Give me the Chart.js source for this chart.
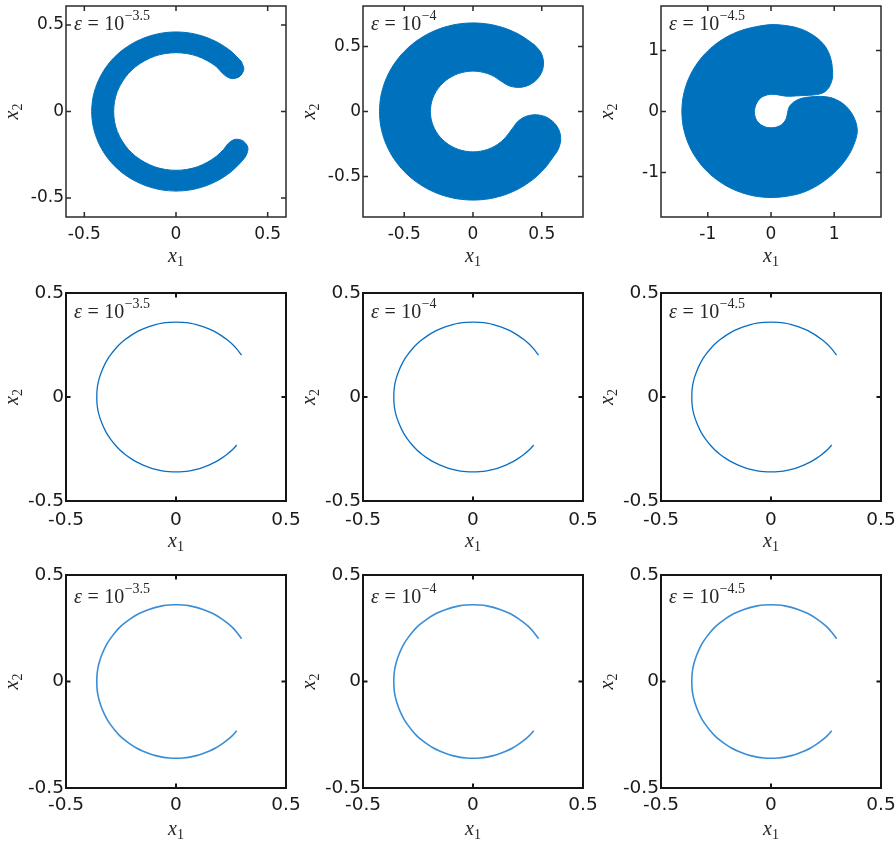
<!DOCTYPE html>
<html><head><meta charset="utf-8">
<script src="https://cdn.jsdelivr.net/npm/chart.js@4.4.1/dist/chart.umd.min.js"></script>
<style>
html,body{margin:0;padding:0;background:#fff;width:896px;height:842px;overflow:hidden;position:relative}
canvas{position:absolute}
</style></head><body>
<script>
// ---- data ----
// Row 1, panel 1 (eps = 10^-3.5): boundary of filled region
const c1X=[.357,.296,.230,.157,.080,0,-.080,-.157,-.230,-.296,-.352,-.398,-.432,-.453,-.46,-.453,-.432,-.398,-.352,-.296,-.230,-.157,-.080,0,.080,.157,.230,.296,.352,.383,.392,.366,.321,.283,.260,.219,.170,.116,.059,0,-.059,-.116,-.170,-.219,-.260,-.294,-.320,-.335,-.34,-.335,-.320,-.294,-.260,-.219,-.170,-.116,-.059,0,.059,.116,.170,.219,.263,.304,.348,.370,.357];
const c1Y=[.289,.352,.398,.432,.453,.46,.453,.432,.398,.352,.296,.230,.157,.080,0,-.080,-.157,-.230,-.296,-.352,-.398,-.432,-.453,-.46,-.453,-.432,-.398,-.352,-.296,-.253,-.208,-.170,-.161,-.187,-.219,-.260,-.294,-.320,-.335,-.34,-.335,-.320,-.294,-.260,-.219,-.170,-.116,-.059,0,.059,.116,.170,.219,.260,.294,.320,.335,.34,.335,.320,.294,.260,.212,.190,.203,.244,.289];
// Row 1, panel 2 (eps = 10^-4)
const c2X=[.451,.340,.233,.118,0,-.118,-.233,-.340,-.437,-.521,-.589,-.639,-.670,-.68,-.670,-.639,-.589,-.521,-.437,-.340,-.233,-.118,0,.118,.233,.340,.437,.521,.583,.621,.638,.627,.589,.531,.461,.389,.328,.285,.237,.199,.155,.106,.054,0,-.054,-.106,-.155,-.199,-.237,-.268,-.291,-.305,-.31,-.305,-.291,-.268,-.237,-.199,-.155,-.106,-.054,0,.054,.106,.155,.205,.268,.339,.409,.466,.503,.513,.495,.451];
const c2Y=[.509,.589,.639,.670,.68,.670,.639,.589,.521,.437,.340,.233,.118,0,-.118,-.233,-.340,-.437,-.521,-.589,-.639,-.670,-.68,-.670,-.639,-.589,-.521,-.437,-.350,-.288,-.218,-.146,-.085,-.042,-.025,-.036,-.074,-.132,-.199,-.237,-.268,-.291,-.305,-.31,-.305,-.291,-.268,-.237,-.199,-.155,-.106,-.054,0,.054,.106,.155,.199,.237,.268,.291,.305,.31,.305,.291,.268,.232,.195,.185,.204,.247,.310,.381,.451,.508];
// Row 1, panel 3 (eps = 10^-4.5)
const c3X=[.975,.962,.93,.87,.78,.67,.53,.37,.19,0,-.245,-.482,-.705,-.906,-1.080,-1.221,-1.325,-1.389,-1.41,-1.389,-1.325,-1.221,-1.080,-.906,-.705,-.482,-.245,0,.25,.50,.74,.95,1.13,1.26,1.34,1.365,1.35,1.30,1.22,1.11,.97,.84,.70,.56,.45,.36,.29,.262,.24,.17,.06,-.06,-.17,-.24,-.262,-.235,-.16,-.05,.07,.18,.28,.40,.52,.66,.78,.86,.92,.958,.975,.975];
const c3Y=[.64,.79,.92,1.05,1.16,1.25,1.33,1.385,1.415,1.425,1.389,1.325,1.221,1.080,.906,.705,.482,.245,0,-.245,-.482,-.705,-.906,-1.080,-1.221,-1.325,-1.389,-1.41,-1.39,-1.33,-1.21,-1.05,-.86,-.66,-.46,-.33,-.20,-.07,.05,.15,.22,.245,.245,.232,.205,.155,.08,-.02,-.12,-.215,-.262,-.262,-.21,-.12,0,.12,.225,.275,.28,.26,.25,.256,.262,.27,.29,.33,.40,.49,.57,.64];
// Rows 2 and 3: thin arc
const arcX=[.298,.276,.255,.231,.206,.18,.152,.123,.093,.063,.031,0,-.031,-.063,-.093,-.123,-.152,-.18,-.206,-.231,-.255,-.276,-.295,-.312,-.326,-.338,-.348,-.355,-.359,-.36,-.359,-.355,-.348,-.338,-.326,-.312,-.295,-.276,-.255,-.231,-.206,-.18,-.152,-.123,-.093,-.063,-.031,0,.031,.063,.093,.123,.152,.18,.206,.231,.255,.276];
const arcY=[.201,.231,.255,.276,.295,.312,.326,.338,.348,.355,.359,.36,.359,.355,.348,.338,.326,.312,.295,.276,.255,.231,.206,.18,.152,.123,.093,.063,.031,0,-.031,-.063,-.093,-.123,-.152,-.18,-.206,-.231,-.255,-.276,-.295,-.312,-.326,-.338,-.348,-.355,-.359,-.36,-.359,-.355,-.348,-.338,-.326,-.312,-.295,-.276,-.255,-.231];
// labels / ticks
const epsExp=['\u22123.5','\u22124','\u22124.5'];
const ticksHalf=[-0.5,0,0.5];
const ticksOne=[-1,0,1];
const rangeTopX=[0.6,0.8,1.74];
const rangeTopY=[0.61,0.81,1.73];
const rangeLow=0.5;

// ---- layout ----
const colLeft=[66,363,661], plotW=220;
const rowTop=[6,293,575], rowH=[211,208,213];
const padT=[6,10,10], L=62, R=16, B=60;
const epsDy=[24,24.5,28], titleDy=[44.5,45.5,46.5], xPad=[7.5,8,6.5];

function makePanel(row,col){
  const h=rowH[row], T=padT[row], W=L+plotW+R, H=T+h+B;
  const cv=document.createElement('canvas');
  cv.width=W; cv.height=H;
  cv.style.left=(colLeft[col]-L)+'px'; cv.style.top=(rowTop[row]-T)+'px';
  cv.style.width=W+'px'; cv.style.height=H+'px';
  document.body.appendChild(cv);
  let xs,ys,xr,yr,xt,yt;
  if(row===0){
    xs=[c1X,c2X,c3X][col]; ys=[c1Y,c2Y,c3Y][col];
    xr=rangeTopX[col]; yr=rangeTopY[col];
    xt=col===2?ticksOne:ticksHalf; yt=xt;
  } else {
    xs=arcX; ys=arcY; xr=rangeLow; yr=rangeLow; xt=ticksHalf; yt=ticksHalf;
  }
  const n=Math.min(xs.length,ys.length);
  const pts=[]; for(let i=0;i<n;i++) pts.push({x:xs[i],y:ys[i]});
  const fs=row===0?17:18.5;
  const tickFont={family:'"DejaVu Sans", Arial, sans-serif', size:fs};
  const ds = row===0 ? {
      data:pts, showLine:true, fill:'shape', backgroundColor:'#0072BD', borderColor:'#0072BD',
      borderWidth:1, pointRadius:0, tension:0.3
    } : {
      data:pts, showLine:true, fill:false, borderColor: row===1?'#0a6fc2':'#3a8ed6',
      borderWidth: row===1?1.3:1.6, pointRadius:0, tension:0.33, borderJoinStyle:'round'
    };
  const frame={id:'frame', afterDraw(chart){
    const ctx=chart.ctx, a=chart.chartArea, sx=chart.scales.x, sy=chart.scales.y;
    const tl=row===0?5:4.5;
    ctx.save();
    ctx.strokeStyle=row===0?'#2a2a2a':'#151515';
    ctx.lineWidth=row===0?1.5:2;
    ctx.beginPath();
    xt.forEach(v=>{const px=sx.getPixelForValue(v);
      ctx.moveTo(px,a.bottom); ctx.lineTo(px,a.bottom-tl);
      ctx.moveTo(px,a.top); ctx.lineTo(px,a.top+tl);});
    yt.forEach(v=>{const py=sy.getPixelForValue(v);
      ctx.moveTo(a.left,py); ctx.lineTo(a.left+tl,py);
      ctx.moveTo(a.right,py); ctx.lineTo(a.right-tl,py);});
    ctx.stroke();
    ctx.strokeRect(a.left,a.top,a.right-a.left,a.bottom-a.top);
    // epsilon label
    const S=20, serif='"Liberation Serif", "Times New Roman", serif';
    let x=a.left+8; const y=a.top+epsDy[row];
    ctx.fillStyle='#262626'; ctx.textAlign='left'; ctx.textBaseline='alphabetic';
    ctx.font='italic '+S+'px '+serif; ctx.fillText('\u03b5',x,y); x+=ctx.measureText('\u03b5').width+5.5;
    ctx.font=S+'px '+serif; ctx.fillText('=',x,y); x+=ctx.measureText('=').width+5.5;
    ctx.fillText('10',x,y); x+=ctx.measureText('10').width+0.5;
    ctx.font=Math.round(S*0.7)+'px '+serif; ctx.fillText(epsExp[col],x,y-S*0.5);
    // axis titles
    const cx=(a.left+a.right)/2, by=a.bottom+titleDy[row];
    ctx.font='italic 20px '+serif;
    const wx=ctx.measureText('x').width;
    ctx.font='14px '+serif;
    const w1=ctx.measureText('1').width;
    const sx0=cx-(wx+w1)/2;
    ctx.font='italic 20px '+serif; ctx.fillText('x',sx0,by);
    ctx.font='14px '+serif; ctx.fillText('1',sx0+wx,by+4);
    ctx.save();
    ctx.translate(a.left-48,(a.top+a.bottom)/2);
    ctx.rotate(-Math.PI/2);
    ctx.font='italic 20px '+serif; ctx.fillText('x',-(wx+w1)/2,0);
    ctx.font='14px '+serif; ctx.fillText('2',-(wx+w1)/2+wx,4);
    ctx.restore();
    ctx.restore();
  }};
  new Chart(cv,{
    type:'scatter',
    data:{datasets:[ds]},
    options:{
      responsive:false, animation:false, events:[],
      layout:{padding:{top:T,right:R,left:0,bottom:0}},
      plugins:{legend:{display:false},tooltip:{enabled:false}},
      scales:{
        x:{type:'linear',min:-xr,max:xr,
          afterBuildTicks:s=>{s.ticks=xt.map(v=>({value:v}));},
          grid:{display:false,drawTicks:false}, border:{display:false},
          ticks:{font:tickFont,color:'#1a1a1a',padding:xPad[row],maxRotation:0,autoSkip:false,callback:v=>String(v)},
          afterFit:s=>{s.height=B; s.paddingLeft=0; s.paddingRight=0;}},
        y:{type:'linear',min:-yr,max:yr,
          afterBuildTicks:s=>{s.ticks=yt.map(v=>({value:v}));},
          grid:{display:false,drawTicks:false}, border:{display:false},
          ticks:{font:tickFont,color:'#1a1a1a',padding:2,autoSkip:false,callback:v=>String(v)},
          afterFit:s=>{s.width=L; s.paddingTop=0; s.paddingBottom=0;}}
      }
    },
    plugins:[frame]
  });
}
for(let r=0;r<3;r++) for(let c=0;c<3;c++) makePanel(r,c);
</script>
</body></html>
